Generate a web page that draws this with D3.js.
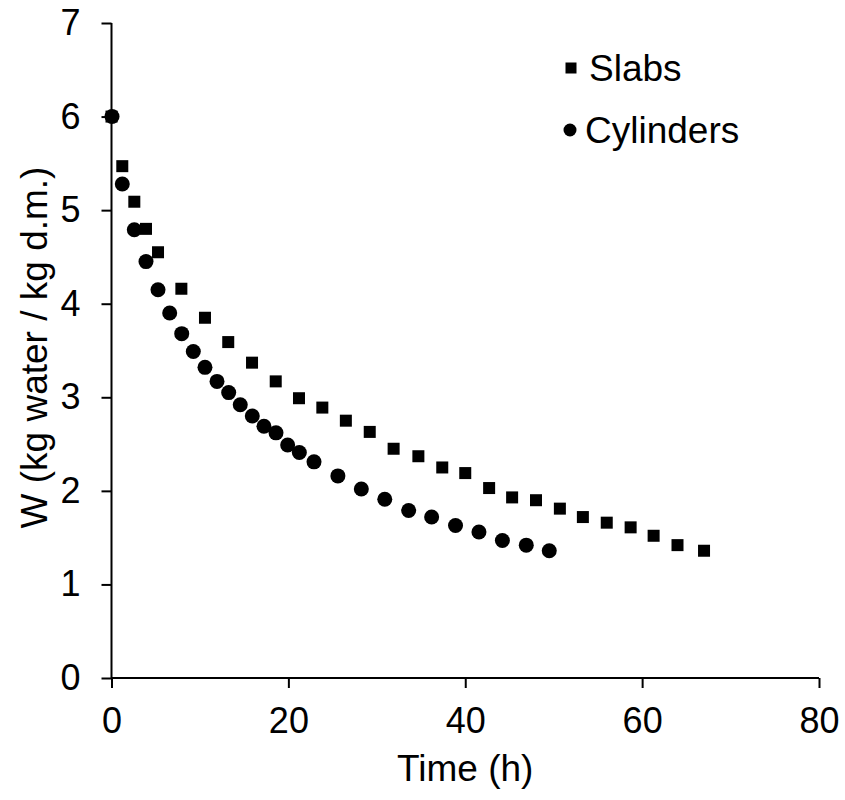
<!DOCTYPE html>
<html>
<head>
<meta charset="utf-8">
<script src="https://cdn.jsdelivr.net/npm/d3@7/dist/d3.min.js"></script>
<style>
  body { margin: 0; background: #fff; }
  text { font-family: "Liberation Sans", Arial, sans-serif; }
</style>
</head>
<body>
<div id="chart"></div>
<script>
// Slabs (squares)
const slabTime = [0, 1.22, 2.58, 3.9, 5.26, 7.9, 10.57, 13.2, 15.89, 18.57, 21.2, 23.84, 26.5, 29.2,
  31.9, 34.7, 37.4, 40.0, 42.7, 45.3, 48.0, 50.7, 53.3, 56.0, 58.7, 61.3, 64.0, 67.0];
const slabW = [6.0, 5.47, 5.09, 4.80, 4.55, 4.16, 3.85, 3.59, 3.37, 3.17, 2.99, 2.89, 2.75, 2.63,
  2.45, 2.37, 2.25, 2.19, 2.03, 1.93, 1.90, 1.81, 1.72, 1.66, 1.61, 1.52, 1.42, 1.36];

// Cylinders (circles)
const cylTime = [0.06, 1.22, 2.58, 3.9, 5.26, 6.58, 7.94, 9.25, 10.57, 11.93, 13.25, 14.56, 15.92,
  17.24, 18.6, 19.92, 21.24, 22.9, 25.6, 28.25, 30.9, 33.6, 36.2, 38.9, 41.55, 44.2, 46.9, 49.5];
const cylW = [6.0, 5.28, 4.79, 4.45, 4.15, 3.90, 3.68, 3.49, 3.32, 3.17, 3.05, 2.92, 2.80,
  2.69, 2.62, 2.49, 2.41, 2.31, 2.16, 2.02, 1.91, 1.79, 1.72, 1.63, 1.56, 1.47, 1.42, 1.36];

const xTicks = [0, 20, 40, 60, 80];
const yTicks = [0, 1, 2, 3, 4, 5, 6, 7];

const margin = { top: 23, right: 26, bottom: 122, left: 111.5 };
const totalW = 845, totalH = 800;
const width = totalW - margin.left - margin.right;
const height = totalH - margin.top - margin.bottom;

const svg = d3.select('#chart')
  .append('svg')
  .attr('width', totalW)
  .attr('height', totalH)
  .append('g')
  .attr('transform', `translate(${margin.left},${margin.top})`);

const x = d3.scaleLinear().domain([0, 80]).range([0, width]);
const y = d3.scaleLinear().domain([0, 7]).range([height, 0]);

const tickFont = '36px';
const labelFont = '37px';

// X axis
const xAxis = svg.append('g')
  .attr('transform', `translate(0,${height})`)
  .call(d3.axisBottom(x).tickValues(xTicks).tickSize(10).tickPadding(19).tickFormat(d3.format('d')));
xAxis.selectAll('text').style('font-size', tickFont).style('fill', '#000');

// Y axis
const yAxis = svg.append('g')
  .call(d3.axisLeft(y).tickValues(yTicks).tickSize(10).tickPadding(21).tickFormat(d3.format('d')));
yAxis.selectAll('text').style('font-size', tickFont).style('fill', '#000');

svg.selectAll('.domain, .tick line').attr('stroke', '#000').attr('stroke-width', 2);
svg.selectAll('.domain').attr('d', function () {
  return d3.select(this.parentNode).attr('transform') ? `M0,0H${width}` : `M0,0V${height}`;
});

// Slabs
const slabs = slabTime.map((t, i) => ({ t, w: slabW[i] }));
svg.append('g')
  .selectAll('rect')
  .data(slabs)
  .enter()
  .append('rect')
  .attr('x', (d) => x(d.t) - 6)
  .attr('y', (d) => y(d.w) - 6)
  .attr('width', 12)
  .attr('height', 12)
  .attr('fill', '#000');

// Cylinders
const cyls = cylTime.map((t, i) => ({ t, w: cylW[i] }));
svg.append('g')
  .selectAll('circle')
  .data(cyls)
  .enter()
  .append('circle')
  .attr('cx', (d) => x(d.t))
  .attr('cy', (d) => y(d.w))
  .attr('r', 7.5)
  .attr('fill', '#000');

// Legend
const legend = svg.append('g');
legend.append('rect')
  .attr('x', 571 - margin.left - 5.5)
  .attr('y', 68 - margin.top - 5.5)
  .attr('width', 11)
  .attr('height', 11)
  .attr('fill', '#000');
legend.append('text')
  .attr('x', 589 - margin.left)
  .attr('y', 68 - margin.top)
  .attr('dy', '0.35em')
  .style('font-size', labelFont)
  .text('Slabs');
legend.append('circle')
  .attr('cx', 570 - margin.left)
  .attr('cy', 130 - margin.top)
  .attr('r', 6.5)
  .attr('fill', '#000');
legend.append('text')
  .attr('x', 585 - margin.left)
  .attr('y', 130 - margin.top)
  .attr('dy', '0.35em')
  .style('font-size', labelFont)
  .text('Cylinders');

// Axis labels
svg.append('text')
  .attr('x', width / 2)
  .attr('y', height + 103)
  .attr('text-anchor', 'middle')
  .style('font-size', labelFont)
  .text('Time (h)');

svg.append('text')
  .attr('transform', 'rotate(-90)')
  .attr('x', -height / 2 + 3)
  .attr('y', -margin.left + 47)
  .attr('text-anchor', 'middle')
  .style('font-size', labelFont)
  .text('W (kg water / kg d.m.)');
</script>
</body>
</html>
